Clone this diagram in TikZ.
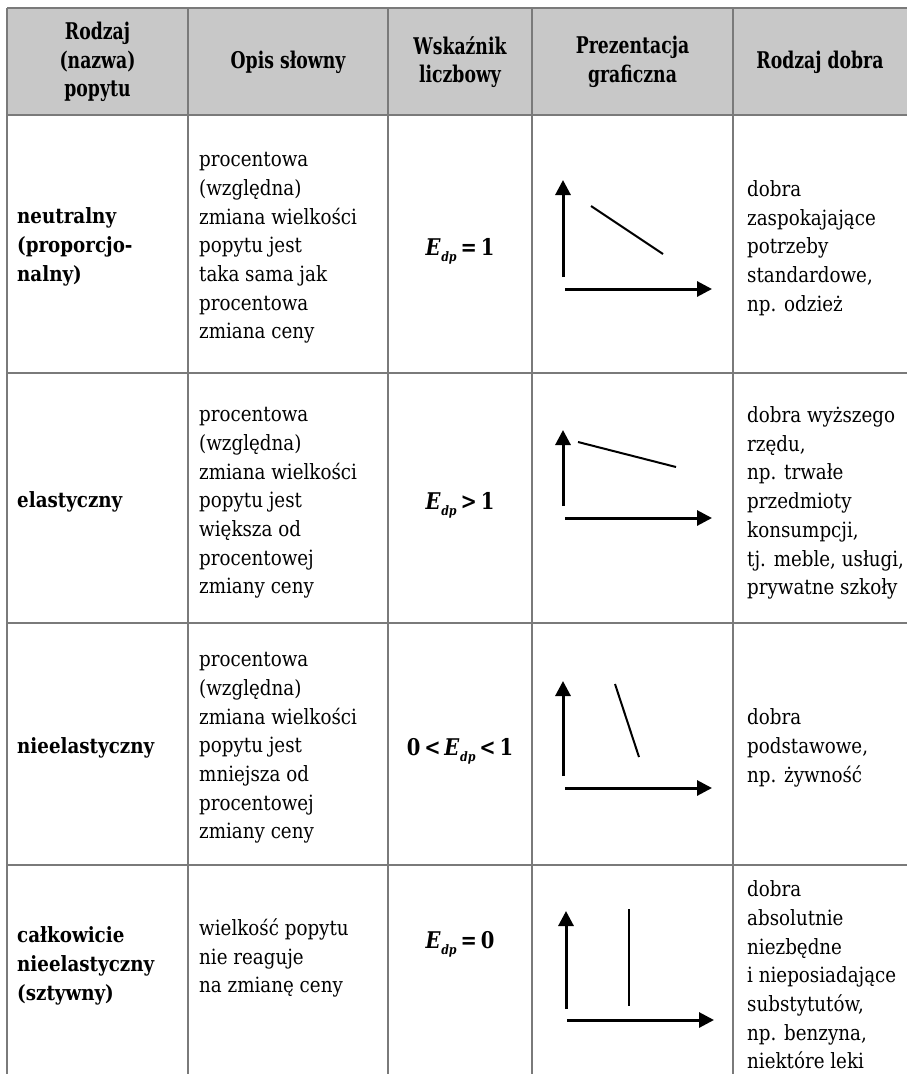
\documentclass[tikz,border=0pt]{standalone}
\usepackage{fontspec}
\setmainfont{DejaVu Serif}[FakeStretch=0.87]
\newfontfamily\headfont{DejaVu Serif}[FakeStretch=0.75]
\newfontfamily\eqfont{DejaVu Serif}[FakeStretch=0.85]
\usetikzlibrary{arrows.meta}
\definecolor{rulegray}{HTML}{7A7A7A}
\definecolor{headbg}{HTML}{C8C8C8}
\newcommand\Edp{\textit{E}\kern0.5pt\raisebox{-6pt}{\fontsize{13}{13}\selectfont\itshape dp}}
\begin{document}
\begin{tikzpicture}[x=1pt,y=-1pt,
  grid/.style={draw=rulegray,line width=1.4pt},
  head/.style={font=\headfont\bfseries\fontsize{23}{28.5}\selectfont,align=center,inner sep=0},
  body/.style={font=\fontsize{21}{28.7}\selectfont,align=left,anchor=west,inner sep=0},
  kind/.style={font=\bfseries\fontsize{21}{28.7}\selectfont,align=left,anchor=west,inner sep=0},
  ratio/.style={font=\eqfont\bfseries\fontsize{23}{26}\selectfont,inner sep=0,anchor=base},
  axis/.style={line width=3pt,-{Triangle[length=15pt,width=15pt]}},
  curve/.style={line width=2pt}
]
\useasboundingbox (0,0) rectangle (907,1074);
\fill[white] (0,0) rectangle (907,1074);
\fill[headbg] (7,8) rectangle (907,115);

% table rules
\foreach \yy in {8,115,373,623,865} \draw[grid] (7,\yy) -- (907,\yy);
\foreach \xx in {7,188,388,532,733} \draw[grid] (\xx,8) -- (\xx,1074);

% header
\node[head] (h1) at (97.5,62) {Rodzaj\\(nazwa)\\popytu};
\node[head] (h2) at (288,62) {Opis słowny};
\node[head] (h3) at (460,62) {Wskaźnik\\liczbowy};
\node[head] (h4) at (632.5,62) {Prezentacja\\graficzna};
\node[head] (h5) at (820,62) {Rodzaj dobra};

% row 1
\node[kind] (k1) at (17,247) {neutralny\\(proporcjo-\\nalny)};
\node[body] (d1) at (199,248) {procentowa\\(względna)\\zmiana wielkości\\popytu jest\\taka sama jak\\procentowa\\zmiana ceny};
\node[ratio] (r1) at (460,255) {\Edp\,=\,1};
\node[body] (g1) at (747,248) {dobra\\zaspokajające\\potrzeby\\standardowe,\\np. odzież};
\coordinate (o1a) at (563,277); \coordinate (t1a) at (563,180);
\coordinate (o1b) at (565,289); \coordinate (t1b) at (712,289);
\draw[axis] (o1a) -- (t1a);
\draw[axis] (o1b) -- (t1b);
\coordinate (p1) at (591,206); \coordinate (q1) at (663,254);
\draw[curve] (p1) -- (q1);

% row 2
\node[kind] (k2) at (17,502) {elastyczny};
\node[body] (d2) at (199,503) {procentowa\\(względna)\\zmiana wielkości\\popytu jest\\większa od\\procentowej\\zmiany ceny};
\node[ratio] (r2) at (460,509) {\Edp\,>\,1};
\node[body] (g2) at (747,503) {dobra wyższego\\rzędu,\\np. trwałe\\przedmioty\\konsumpcji,\\tj. meble, usługi,\\prywatne szkoły};
\coordinate (o2a) at (563,506); \coordinate (t2a) at (563,430);
\coordinate (o2b) at (565,518); \coordinate (t2b) at (712,518);
\draw[axis] (o2a) -- (t2a);
\draw[axis] (o2b) -- (t2b);
\coordinate (p2) at (578,442); \coordinate (q2) at (676,467);
\draw[curve] (p2) -- (q2);

% row 3
\node[kind] (k3) at (17,748) {nieelastyczny};
\node[body] (d3) at (199,748) {procentowa\\(względna)\\zmiana wielkości\\popytu jest\\mniejsza od\\procentowej\\zmiany ceny};
\node[ratio] (r3) at (460,755) {0\,<\,\Edp\,<\,1};
\node[body] (g3) at (747,748) {dobra\\podstawowe,\\np. żywność};
\coordinate (o3a) at (563,776); \coordinate (t3a) at (563,681);
\coordinate (o3b) at (565,788); \coordinate (t3b) at (712,788);
\draw[axis] (o3a) -- (t3a);
\draw[axis] (o3b) -- (t3b);
\coordinate (p3) at (615,684); \coordinate (q3) at (639,757);
\draw[curve] (p3) -- (q3);

% row 4
\node[kind] (k4) at (17,966) {całkowicie\\nieelastyczny\\(sztywny)};
\node[body] (d4) at (199,958) {wielkość popytu\\nie reaguje\\na zmianę ceny};
\node[ratio] (r4) at (460,948) {\Edp\,=\,0};
\node[body] (g4) at (747,975) {dobra\\absolutnie\\niezbędne\\i nieposiadające\\substytutów,\\np. benzyna,\\niektóre leki};
\coordinate (o4a) at (566,1009); \coordinate (t4a) at (566,911);
\coordinate (o4b) at (567,1020); \coordinate (t4b) at (714,1020);
\draw[axis] (o4a) -- (t4a);
\draw[axis] (o4b) -- (t4b);
\coordinate (p4) at (629,909); \coordinate (q4) at (629,1006);
\draw[curve] (p4) -- (q4);
\end{tikzpicture}
\end{document}
